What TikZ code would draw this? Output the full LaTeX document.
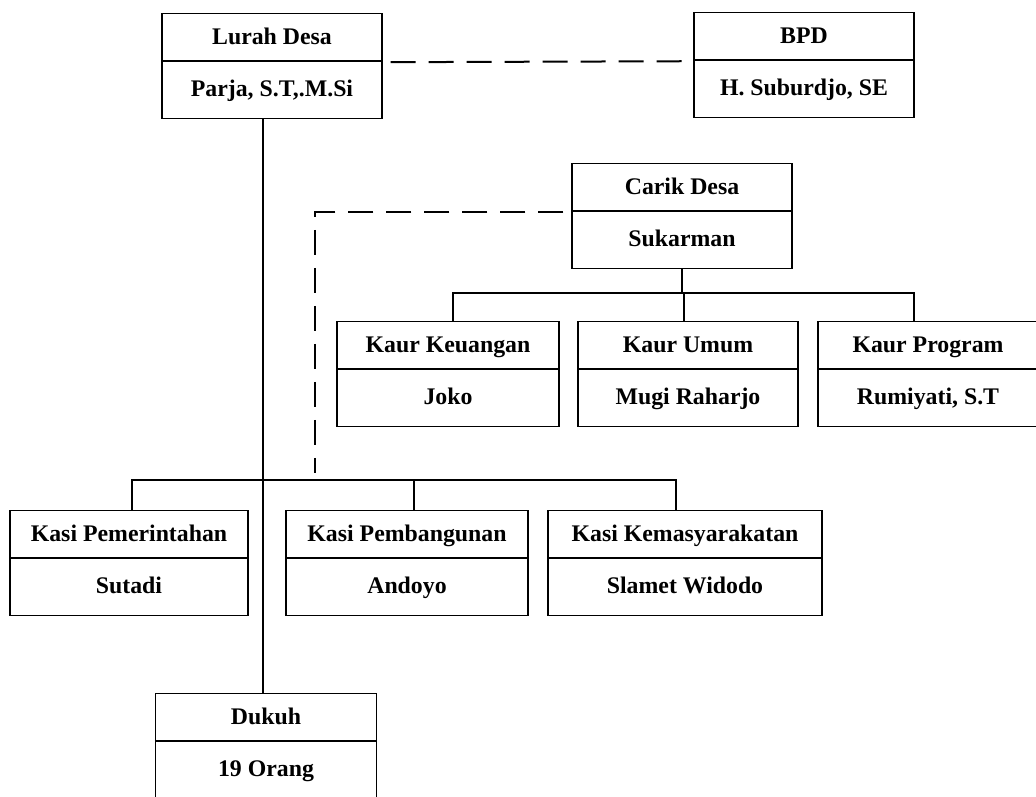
\documentclass[tikz,border=0pt]{standalone}
\usepackage{fontspec}
\setmainfont{Liberation Serif}
\usetikzlibrary{calc}
\newcommand\busy{480}
\newcommand\kaury{293}
% one box: name, x, top, width, title, person
\newcommand\orgunit[6]{%
    \node at (#2, #3) [unitbox, minimum width = #4, anchor = north] (#1) {};
    \node at ($(#1.north) + (0, 24)$) [unittext] (#1_t) {#5};
    \node at ($(#1.north) + (0, 76)$) [unittext] (#1_p) {#6};
    \draw [thin line] ($(#1.north west) + (0, 48)$) -- ($(#1.north east) + (0, 48)$);
}
\begin{document}
\begin{tikzpicture}[x=1pt, y=-1pt,
    unitbox/.style={draw, line width=1.4pt, minimum height=105, inner sep=0pt},
    unittext/.style={inner sep=0pt, text height=15.6pt, text depth=0pt,
        font=\fontsize{23.8}{28}\selectfont\bfseries},
    thin line/.style={line width=1.6pt},
    link/.style={line width=2pt},
    dashlink/.style={line width=2pt, dash pattern=on 25pt off 13pt, dash phase=-8pt}]

    \useasboundingbox (0, 0) rectangle (1036, 796);

    % Top row
    \orgunit{lurah}{272}{13}{220}{Lurah Desa}{Parja, S.T,.M.Si}
    \orgunit{bpd}{804}{12}{220}{BPD}{H. Suburdjo, SE}

    \draw [dashlink] ([yshift=4pt]lurah.east) -- ([yshift=4pt]bpd.west);

    % Carik and Kaur
    \orgunit{carik}{682}{163}{220}{Carik Desa}{Sukarman}
    \orgunit{keu}{448}{321}{222}{Kaur Keuangan}{Joko}
    \orgunit{umum}{688}{321}{220}{Kaur Umum}{Mugi Raharjo}
    \orgunit{prog}{928}{321}{220}{Kaur Program}{Rumiyati, S.T}

    \draw [link] (carik.south) -- (carik.south |- 0, \kaury);
    \draw [link] ([xshift=5pt]keu.north) -- ([xshift=5pt]keu.north |- 0, \kaury)
        -- ([xshift=-14pt]prog.north |- 0, \kaury) -- ([xshift=-14pt]prog.north);
    \draw [link] ([xshift=-4pt]umum.north) -- ([xshift=-4pt]umum.north |- 0, \kaury);

    % Kasi
    \orgunit{pem}{129}{510}{238}{Kasi Pemerintahan}{Sutadi}
    \orgunit{pbg}{407}{510}{242}{Kasi Pembangunan}{Andoyo}
    \orgunit{kem}{685}{510}{274}{Kasi Kemasyarakatan}{Slamet Widodo}

    \draw [link] ([xshift=3pt]pem.north) -- ([xshift=3pt]pem.north |- 0, \busy)
        -- ([xshift=-9pt]kem.north |- 0, \busy) -- ([xshift=-9pt]kem.north);
    \draw [link] ([xshift=7pt]pbg.north) -- ([xshift=7pt]pbg.north |- 0, \busy);

    % Dukuh
    \orgunit{dukuh}{266}{693}{221}{Dukuh}{19 Orang}

    \coordinate (spine) at (263, 0);
    \draw [link] (lurah.south -| spine) -- (dukuh.north -| spine);

    \coordinate (bend) at (315, 0);
    \draw [dashlink] ([yshift=4pt]carik.west) -- ([yshift=4pt]carik.west -| bend) -- (bend |- 0, 473);

\end{tikzpicture}
\end{document}
